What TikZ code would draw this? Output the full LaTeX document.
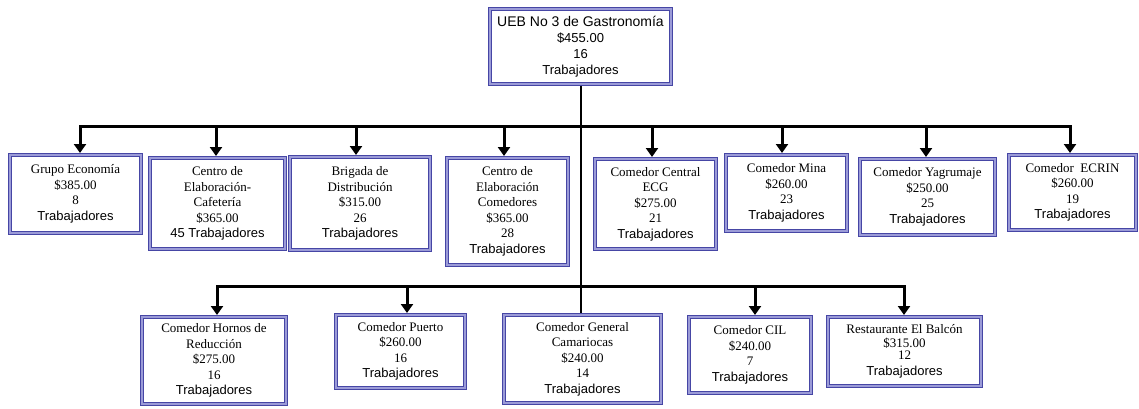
\documentclass[tikz,border=0pt]{standalone}
\usepackage{fontspec}
\setmainfont{Liberation Serif}
\newfontfamily\arialf{Liberation Sans}
\usetikzlibrary{arrows.meta}
\definecolor{boxline}{RGB}{70,70,165}
\definecolor{boxband}{RGB}{155,155,215}
\begin{document}
\begin{tikzpicture}[x=1pt,y=-1pt,
  unit/.style={draw=boxline,line width=0.9pt,double=boxband,double distance=2pt,
    fill=white,align=center,inner sep=1pt,outer sep=2pt,
    font=\fontsize{13}{15.5}\selectfont},
  bar/.style={line width=3pt,line cap=rect},
  drop/.style={line width=3pt,-{Triangle[width=12pt,length=9pt]}},
  trunk/.style={line width=2pt}]
\useasboundingbox[fill=white] (0,0) rectangle (1139,409);

% head of the organisation
\node[unit,minimum width=181pt,minimum height=75pt,
  font=\arialf\fontsize{13}{16}\selectfont] (top) at (580.5,46.5)
  {{\fontsize{14}{16}\selectfont UEB No 3 de Gastronomía}\\\$455.00\\16\\Trabajadores};

% first level
\node[unit,minimum width=131pt,minimum height=78pt] (grupo) at (75.5,194)
  {Grupo Economía\\\$385.00\\8\\\arialf Trabajadores};
\node[unit,minimum width=135pt,minimum height=91pt] (cafe) at (217.5,203.5)
  {Centro de\\Elaboración-\\Cafetería\\\$365.00\\\arialf 45 Trabajadores};
\node[unit,minimum width=140pt,minimum height=93pt] (brig) at (360,203.5)
  {Brigada de\\Distribución\\\$315.00\\26\\\arialf Trabajadores};
\node[unit,minimum width=121pt,minimum height=107pt] (come) at (507.5,211.5)
  {Centro de\\Elaboración\\Comedores\\\$365.00\\28\\\arialf Trabajadores};
\node[unit,minimum width=121pt,minimum height=90pt] (ecg) at (655.5,204)
  {Comedor Central\\ECG\\\$275.00\\21\\\arialf Trabajadores};
\node[unit,minimum width=121pt,minimum height=76pt] (mina) at (786.5,193)
  {Comedor Mina\\\$260.00\\23\\\arialf Trabajadores};
\node[unit,minimum width=135pt,minimum height=76pt] (yagr) at (927.5,197)
  {Comedor Yagrumaje\\\$250.00\\25\\\arialf Trabajadores};
\node[unit,minimum width=127pt,minimum height=75pt] (ecrin) at (1072.5,192.5)
  {Comedor\ \ ECRIN\\\$260.00\\19\\\arialf Trabajadores};

% second level
\node[unit,minimum width=144pt,minimum height=87pt] (horn) at (214,360.5)
  {Comedor Hornos de\\Reducción\\\$275.00\\16\\\arialf Trabajadores};
\node[unit,minimum width=129pt,minimum height=73pt] (puer) at (400.5,351.5)
  {Comedor Puerto\\\$260.00\\16\\\arialf Trabajadores};
\node[unit,minimum width=157pt,minimum height=88pt] (cama) at (582.5,359)
  {Comedor General\\Camariocas\\\$240.00\\14\\\arialf Trabajadores};
\node[unit,minimum width=122pt,minimum height=76pt] (cil) at (750,355)
  {Comedor CIL\\\$240.00\\7\\\arialf Trabajadores};
\node[unit,minimum width=153pt,minimum height=69pt] (balc) at (904.5,351.5)
  {Restaurante El Balcón\\[-1.5pt]\$315.00\\[-3.5pt]12\\[0.5pt]\arialf Trabajadores};

% branch points on the two bars
\coordinate (ja) at (80,126);
\coordinate (jb) at (216,126);
\coordinate (jc) at (356,126);
\coordinate (jd) at (504,126);
\coordinate (je) at (652,126);
\coordinate (jf) at (782,126);
\coordinate (jg) at (926,126);
\coordinate (jh) at (1070,126);
\coordinate (ji) at (217,286);
\coordinate (jj) at (407,286);
\coordinate (jl) at (755,286);
\coordinate (jm) at (904,286);

% connectors
\draw[trunk] (top.south) -- (top.south |- cama.north);
\draw[bar] (ja) -- (jh);
\draw[bar] (ji) -- (jm);
\draw[drop] (ja) -- (ja |- grupo.north);
\draw[drop] (jb) -- (jb |- cafe.north);
\draw[drop] (jc) -- (jc |- brig.north);
\draw[drop] (jd) -- (jd |- come.north);
\draw[drop] (je) -- (je |- ecg.north);
\draw[drop] (jf) -- (jf |- mina.north);
\draw[drop] (jg) -- (jg |- yagr.north);
\draw[drop] (jh) -- (jh |- ecrin.north);
\draw[drop] (ji) -- (ji |- horn.north);
\draw[drop] (jj) -- (jj |- puer.north);
\draw[drop] (jl) -- (jl |- cil.north);
\draw[drop] (jm) -- (jm |- balc.north);
\end{tikzpicture}
\end{document}
